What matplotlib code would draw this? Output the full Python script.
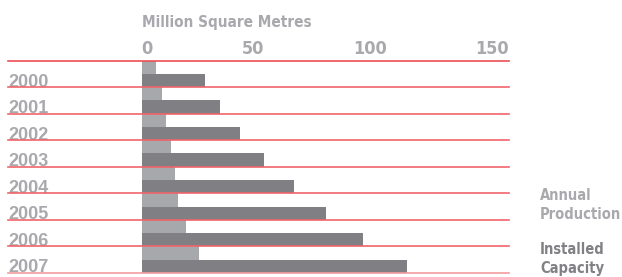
import matplotlib
matplotlib.use("Agg")
import matplotlib.pyplot as plt
from matplotlib.transforms import blended_transform_factory

years = ["2000", "2001", "2002", "2003", "2004", "2005", "2006", "2007"]
annual_production = [5.7, 8.4, 9.9, 12.0, 13.5, 14.8, 18.1, 23.4]
installed_capacity = [25.7, 32.0, 40.1, 49.9, 62.2, 75.3, 90.4, 108.2]
x_ticks = [0, 50, 100, 150]
title = "Million Square Metres"
legend_labels = ["Annual\nProduction", "Installed\nCapacity"]

W, H = 622, 277
fig = plt.figure(figsize=(W / 100, H / 100), dpi=100)
x0, x1 = 141.7, 509.0
y_top, y_bot = 60.5, 273.0
ax = fig.add_axes([x0 / W, 1 - y_bot / H, (x1 - x0) / W, (y_bot - y_top) / H])

light = "#a7a8ac"
dark = "#808084"
red = "#ee4f55"
pink = "#f49ca0"
txt_light = "#a9a9ad"
txt_dark = "#818185"
narrow = ["DejaVu Sans"]
sans = ["Liberation Sans", "DejaVu Sans"]
nkw = dict(fontweight="bold", fontstretch="condensed", family=narrow)

n = len(years)
for i in range(n):
    ax.barh(i + 0.25, annual_production[i], height=0.5, color=light, linewidth=0)
    ax.barh(i + 0.75, installed_capacity[i], height=0.5, color=dark, linewidth=0)

ax.set_xlim(0, 150)
ax.set_ylim(n, 0)
ax.axis("off")

trans = blended_transform_factory(ax.transAxes, ax.transData)
xl = (8 - x0) / (x1 - x0)
for k in range(n + 1):
    c = red if k == 0 else (pink if k == n else "#f06469")
    ax.plot([xl, 1], [k, k], transform=trans, color=c, lw=1.2, clip_on=False, zorder=5)

for i, y in enumerate(years):
    ax.text(xl, i + 1 - 0.02, y, transform=trans, ha="left", va="baseline",
            fontsize=13, fontweight="bold", color=txt_light, family=sans)

# x tick labels
for t in x_ticks:
    px = x0 + (x1 - x0) * t / 150
    ha = "left" if t == 0 else "right"
    fig.text(px / W, 1 - 54 / H, str(t), ha=ha, va="baseline",
             fontsize=13, color=txt_light, **nkw)

fig.text(x0 / W, 1 - 27 / H, title, ha="left", va="baseline",
         fontsize=11, color=txt_light, **nkw)

l1, l2 = legend_labels[0].split("\n"), legend_labels[1].split("\n")
fs_leg = 10.5
fig.text(540 / W, 1 - 200 / H, l1[0], ha="left", va="baseline", fontsize=fs_leg,
         color=txt_light, **nkw)
fig.text(540 / W, 1 - 219 / H, l1[1], ha="left", va="baseline", fontsize=fs_leg,
         color=txt_light, **nkw)
fig.text(540 / W, 1 - 254 / H, l2[0], ha="left", va="baseline", fontsize=fs_leg,
         color=txt_dark, **nkw)
fig.text(540 / W, 1 - 273 / H, l2[1], ha="left", va="baseline", fontsize=fs_leg,
         color=txt_dark, **nkw)

fig.savefig("out.png", dpi=100)
